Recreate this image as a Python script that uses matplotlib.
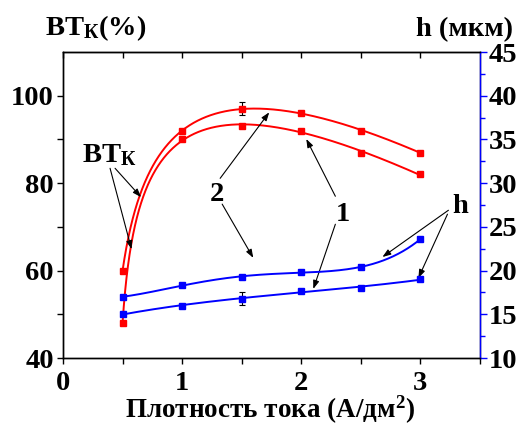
import numpy as np
import matplotlib
matplotlib.use("Agg")
import matplotlib.pyplot as plt

plt.rcParams['font.family'] = ['Liberation Serif', 'DejaVu Serif']
plt.rcParams['font.weight'] = 'bold'
plt.rcParams['mathtext.fontset'] = 'custom'
plt.rcParams['mathtext.rm'] = 'Liberation Serif:bold'
plt.rcParams['mathtext.it'] = 'Liberation Serif:bold'
plt.rcParams['mathtext.bf'] = 'Liberation Serif:bold'

# ---- data ----
current_density = [0.5, 1.0, 1.5, 2.0, 2.5, 3.0]
bt_curve2 = [60, 92, 97, 96, 92, 87]      # upper red
bt_curve1 = [48, 90, 93, 92, 87, 82]      # lower red
h_curve2 = [17.0, 18.3, 19.3, 19.8, 20.4, 23.6]   # upper blue
h_curve1 = [15.0, 16.0, 16.8, 17.7, 18.0, 19.0]   # lower blue
bt_err_x, bt_err_y, bt_err = 1.5, 97, 1.5
h_err_x, h_err_y, h_err = 1.5, 16.8, 0.7
x_ticks = [0, 1, 2, 3]
bt_ticks = [40, 60, 80, 100]
h_ticks = [10, 15, 20, 25, 30, 35, 40, 45]

x = np.array(current_density)
xs = np.linspace(x[0], x[-1], 2000)


def log_fit(y, x0):
    """Least-squares fit y = a + b*x + c*ln(x - x0)."""
    A = np.vstack([np.ones_like(x), x, np.log(x - x0)]).T
    c, *_ = np.linalg.lstsq(A, np.array(y, float), rcond=None)
    return xs, c[0] + c[1] * xs + c[2] * np.log(xs - x0)


fig = plt.figure(figsize=(5.23, 4.26), dpi=100)
ax = fig.add_axes([63 / 523, 1 - 358 / 426, (480 - 63) / 523, (358 - 52) / 426])
ax2 = ax.twinx()

RED = '#ff0000'
BLUE = '#0000ff'

ax.plot(*log_fit(bt_curve2, 0.37), color=RED, lw=1.4)
ax.plot(*log_fit(bt_curve1, 0.45), color=RED, lw=1.4)
ax.errorbar([bt_err_x], [bt_err_y], yerr=[bt_err], color='black', lw=0.8,
            capsize=2.5, capthick=0.8, fmt='none')
ax.plot(x, bt_curve2, 's', color=RED, ms=5)
ax.plot(x, bt_curve1, 's', color=RED, ms=5)

ax2.plot(xs, np.polyval(np.polyfit(x, h_curve2, 4), xs), color=BLUE, lw=1.4)
ax2.plot(xs, np.polyval(np.polyfit(x, h_curve1, 3), xs), color=BLUE, lw=1.4)
ax2.errorbar([h_err_x], [h_err_y], yerr=[h_err], color='black', lw=0.8,
             capsize=2.5, capthick=0.8, fmt='none')
ax2.plot(x, h_curve2, 's', color=BLUE, ms=5)
ax2.plot(x, h_curve1, 's', color=BLUE, ms=5)

ax.set_xlim(0, 3.5)
ax.set_ylim(40, 110)
ax2.set_ylim(10, 45)
ax.set_xticks(x_ticks)
ax.set_xticks([0.5, 1.5, 2.5, 3.5], minor=True)
ax.set_yticks(bt_ticks)
ax.set_yticks([50, 70, 90], minor=True)
ax2.set_yticks(h_ticks)
ax2.set_yticks(np.array(h_ticks[:-1]) + 2.5, minor=True)

fs = 20.5
ax.tick_params(axis='x', which='both', direction='out', length=4, width=1, labelsize=fs, pad=5)
ax.tick_params(axis='y', which='major', direction='out', length=4.5, width=1, labelsize=fs, pad=2)
ax.tick_params(axis='y', which='minor', direction='out', length=4.5, width=1)
ax2.tick_params(axis='y', which='major', direction='out', length=5, width=1,
                color=BLUE, labelsize=fs, labelcolor='black', pad=1)
ax2.tick_params(axis='y', which='minor', direction='out', length=3.5, width=1, color=BLUE)
for lab in ax.get_xticklabels() + ax.get_yticklabels() + ax2.get_yticklabels():
    lab.set_fontweight('bold')

for a in (ax, ax2):
    for s in a.spines.values():
        s.set_linewidth(1)
ax2.spines['right'].set_color(BLUE)

top = ax.secondary_xaxis('top')
top.set_xticks([0, 0.5, 1, 1.5, 2, 2.5, 3])
top.tick_params(direction='in', length=4, width=1, labeltop=False)
top.set_xticklabels([])

# titles
fig.text(45 / 523, 1 - 35 / 426, r'ВТ$_{К}$(%)', fontsize=fs, fontweight='bold',
         ha='left', va='baseline')
fig.text(513 / 523, 1 - 36 / 426, 'h (мкм)', fontsize=fs, fontweight='bold',
         ha='right', va='baseline')
fig.text(270 / 523, 1 - 418 / 426, r'Плотность тока (А/дм$^{2}$)', fontsize=19.5,
         fontweight='bold', ha='center', va='baseline')

# annotations
akw = dict(arrowstyle='-|>,head_length=0.5,head_width=0.18', color='black', lw=0.8,
           shrinkA=0, shrinkB=0)
ax.text(0.385, 86.4, r'ВТ$_{К}$', fontsize=fs, fontweight='bold', ha='center', va='center')
ax.annotate('', xy=(0.655, 76.8), xytext=(0.437, 83.4), arrowprops=akw)
ax.annotate('', xy=(0.575, 64.9), xytext=(0.395, 83.4), arrowprops=akw)

ax.text(1.294, 77.5, '2', fontsize=fs, fontweight='bold', ha='center', va='center')
ax.annotate('', xy=(1.731, 96.2), xytext=(1.319, 81.1), arrowprops=akw)
ax.annotate('', xy=(1.597, 62.9), xytext=(1.336, 75.2), arrowprops=akw)

ax.text(2.345, 72.9, '1', fontsize=fs, fontweight='bold', ha='center', va='center')
ax.annotate('', xy=(2.042, 90.1), xytext=(2.286, 77.0), arrowprops=akw)
ax.annotate('', xy=(2.101, 55.8), xytext=(2.286, 70.6), arrowprops=akw)

ax.text(3.336, 74.7, 'h', fontsize=fs, fontweight='bold', ha='center', va='center')
ax.annotate('', xy=(2.681, 63.1), xytext=(3.235, 73.8), arrowprops=akw)
ax.annotate('', xy=(2.983, 58.3), xytext=(3.227, 72.9), arrowprops=akw)

fig.savefig('out.png', dpi=100)
